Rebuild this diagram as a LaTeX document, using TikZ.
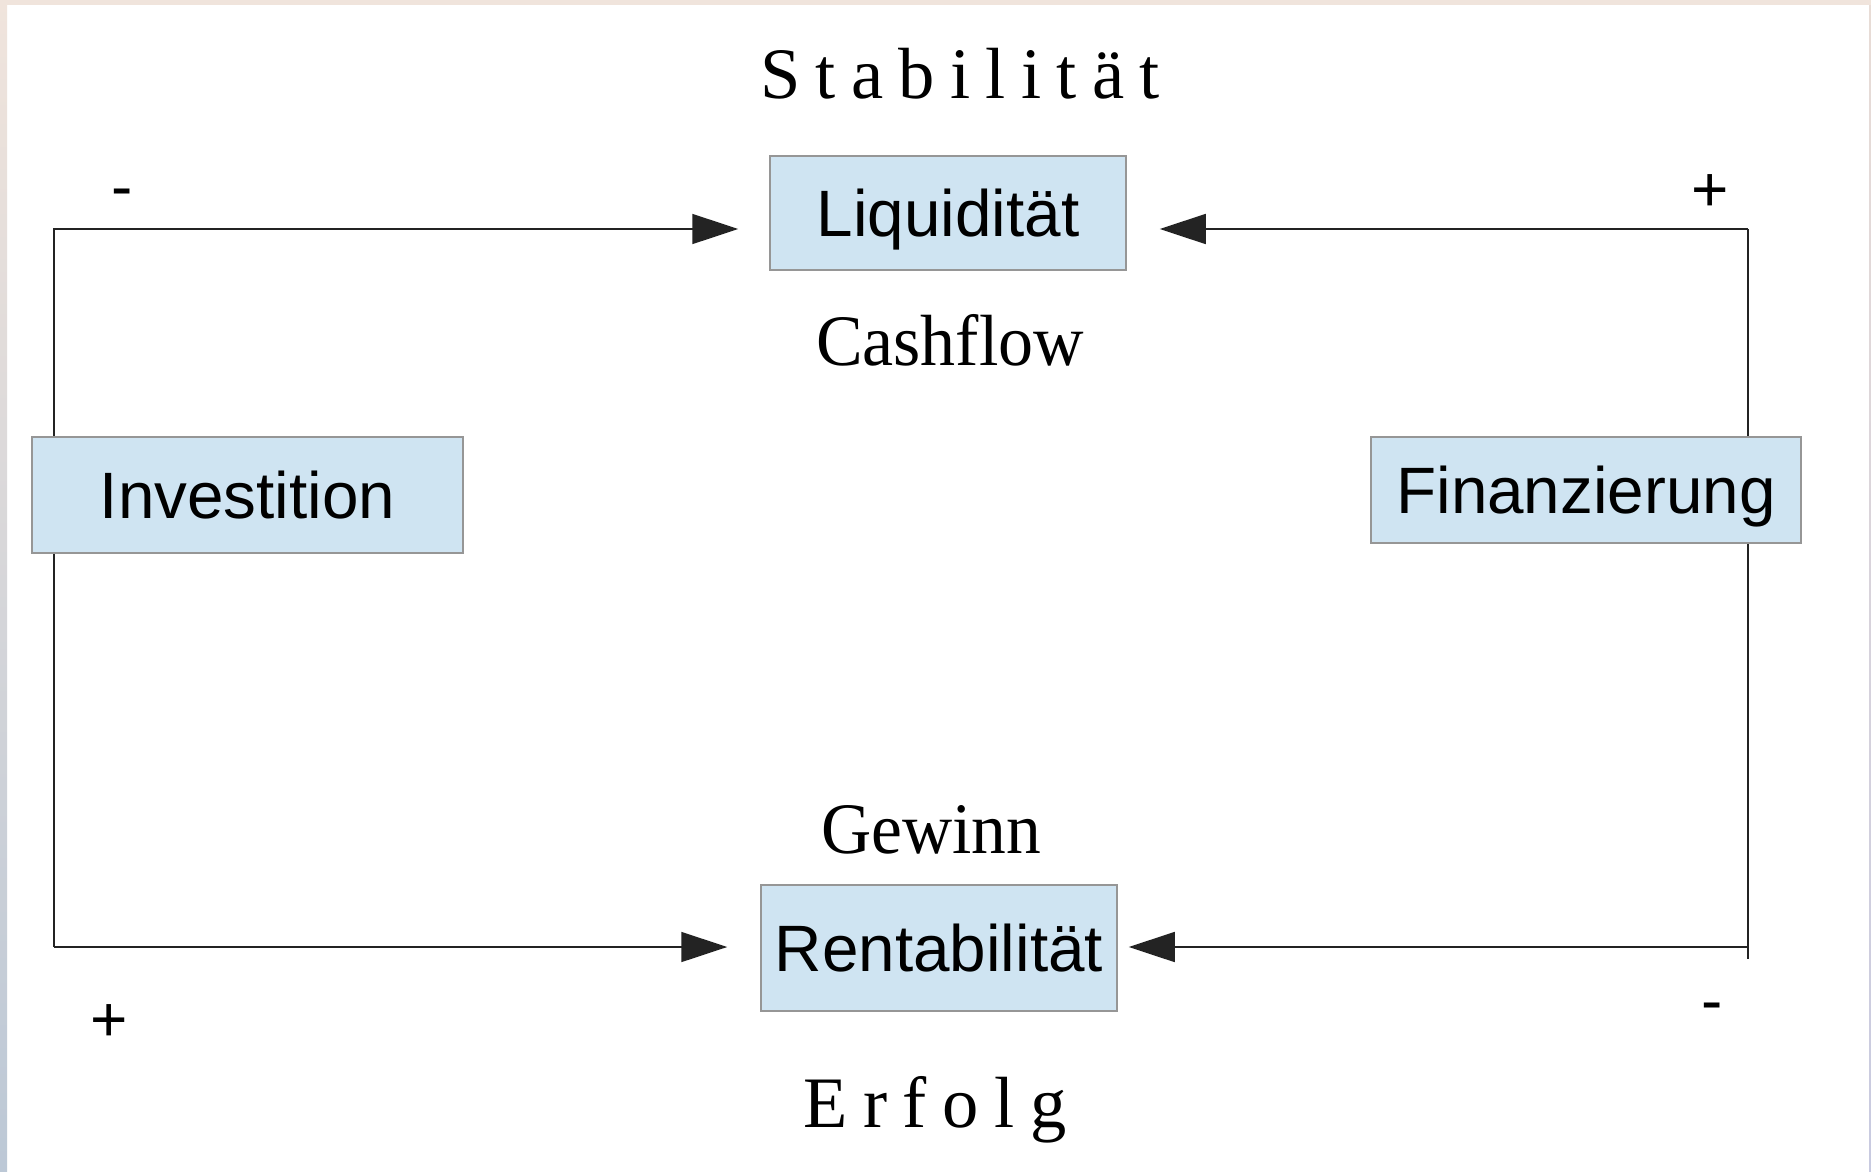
\documentclass[tikz,border=0pt]{standalone}
\usepackage{fontspec}
\setmainfont{Liberation Serif}
\newfontfamily\sansfam{Liberation Sans}
\usepackage{graphicx}
\usetikzlibrary{arrows.meta}
\pgfdeclarelayer{back}
\pgfdeclarelayer{mid}
\pgfsetlayers{back,mid,main}
\definecolor{boxfill}{RGB}{207,228,242}
\definecolor{boxline}{RGB}{150,150,150}
\definecolor{wire}{RGB}{35,35,35}
\definecolor{bandtop}{RGB}{240,228,220}
\definecolor{bandbot}{RGB}{188,200,214}
\definecolor{bandrtop}{RGB}{232,220,214}
\definecolor{bandrbot}{RGB}{200,202,224}
\begin{document}
\begin{tikzpicture}[x=1pt,y=-1pt,
 blk/.style={draw=boxline, line width=1.5pt, fill=boxfill, inner sep=0pt,
   text height=46pt, text depth=0pt, font=\sansfam\fontsize{65.6}{70}\selectfont},
 lbl/.style={anchor=base, inner sep=0pt, font=\fontsize{72.5}{80}\selectfont},
 sgn/.style={anchor=base, inner sep=0pt, font=\sansfam\fontsize{64}{70}\selectfont},
 wireline/.style={draw=wire, line width=1.6pt},
 arr/.style={wireline, -{Triangle[length=46pt,width=30pt]}}]
\useasboundingbox (0,0) rectangle (1871,1171);
\begin{pgfonlayer}{back}
  \fill[white] (0,0) rectangle (1871,1171);
  \shade[top color=bandtop, bottom color=bandbot] (0,0) rectangle (7,1171);
  \shade[top color=bandrtop, bottom color=bandrbot] (1869,0) rectangle (1871,1171);
  \fill[bandtop] (0,0) rectangle (1871,5);
\end{pgfonlayer}

% boxes
\node[blk, minimum width=356pt, minimum height=114pt] (liq) at (948,213) {Liquidität};
\node[blk, minimum width=356pt, minimum height=126pt] (ren) at (939,948) {Rentabilität};
\node[blk, minimum width=431pt, minimum height=116pt] (inv) at (247.5,495) {Investition};
\node[blk, minimum width=430pt, minimum height=106pt] (fin) at (1586,490) {Finanzierung};

% serif labels
\node[lbl] (stab) at (960,98) {\makebox[400pt][s]{S\hfill t\hfill a\hfill b\hfill i\hfill l\hfill i\hfill t\hfill ä\hfill t}};
\node[lbl] (cash) at (950,365) {\resizebox{268pt}{\height}{Cashflow}};
\node[lbl] (gew) at (931,853) {\resizebox{220pt}{\height}{Gewinn}};
\node[lbl] (erf) at (935,1127) {\makebox[264pt][s]{E\hfill r\hfill f\hfill o\hfill l\hfill g}};

% signs
\node[sgn] (s1) at (122,208) {-};
\node[sgn] (s2) at (1710,211) {+};
\node[sgn] (s3) at (109,1041) {+};
\node[sgn] (s4) at (1712,1022) {-};

% corners
\coordinate (tl) at (54,229);
\coordinate (bl) at (54,947);
\coordinate (tr) at (1748,229);
\coordinate (br) at (1748,947);
\coordinate (brx) at (1748,959);

\begin{pgfonlayer}{mid}
  \draw[arr, shorten >=31pt] (bl) -- (tl) -- (tl -| liq.west);
  \draw[arr, shorten >=33pt] (bl) -- (bl -| ren.west);
  \draw[wireline] (tr) -- (brx);
  \draw[arr, shorten >=33pt] (tr) -- (tr -| liq.east);
  \draw[arr, shorten >=11pt] (br) -- (br -| ren.east);
\end{pgfonlayer}
\end{tikzpicture}
\end{document}
